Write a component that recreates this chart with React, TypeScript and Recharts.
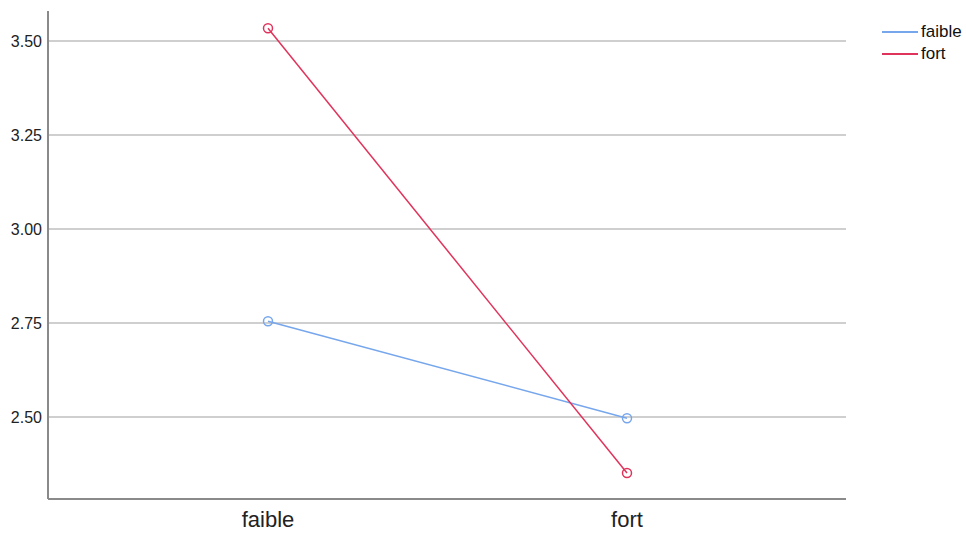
import React from 'react';
import { LineChart, Line, XAxis, YAxis, CartesianGrid } from 'recharts';

const categories = ['faible', 'fort'];
const faibleValues = [2.755, 2.497];
const fortValues = [3.534, 2.351];
const yTicks = [2.5, 2.75, 3.0, 3.25, 3.5];

const seriesInfo = [
  { key: 'faible', color: '#76a6ec' },
  { key: 'fort', color: '#e0335b' },
];

const data = categories.map((c, i) => ({ name: c, faible: faibleValues[i], fort: fortValues[i] }));

const FONT = '"Liberation Sans", Arial, sans-serif';

const LegendBox = () => (
  <div style={{ position: 'absolute', left: 882, top: 21, fontFamily: FONT }}>
    {seriesInfo.map((s) => (
      <div key={s.key} style={{ display: 'flex', alignItems: 'center', height: 22 }}>
        <div style={{ width: 36, height: 2, background: s.color, marginRight: 3 }} />
        <span style={{ fontSize: 17, color: '#111' }}>{s.key}</span>
      </div>
    ))}
  </div>
);

export default function App() {
  return (
    <div style={{ position: 'absolute', left: 0, top: 0, width: 966, height: 535, background: '#fff' }}>
      <LineChart
        width={966}
        height={535}
        data={data}
        margin={{ top: 11, right: 120, bottom: 0, left: 0 }}
        style={{ fontFamily: FONT }}
      >
        <CartesianGrid
          horizontal
          vertical={false}
          horizontalValues={yTicks}
          stroke="#cfcfcf"
          strokeWidth={2}
        />
        <XAxis
          dataKey="name"
          scale="point"
          height={36}
          padding={{ left: 220, right: 219 }}
          axisLine={{ stroke: '#8a8a8a', strokeWidth: 2 }}
          tickLine={false}
          tickMargin={6}
          tick={{ fontSize: 22, fill: '#222', fontFamily: FONT }}
        />
        <YAxis
          width={48}
          domain={[2.282, 3.58]}
          ticks={yTicks}
          tickFormatter={(v: number) => v.toFixed(2)}
          axisLine={{ stroke: '#8a8a8a', strokeWidth: 2 }}
          tickLine={false}
          tickMargin={0}
          tick={{ fontSize: 16, fill: '#222', fontFamily: FONT }}
          allowDataOverflow
        />
        {seriesInfo.map((s) => (
          <Line
            key={s.key}
            dataKey={s.key}
            type="linear"
            stroke={s.color}
            strokeWidth={1.5}
            dot={{ r: 4.5, stroke: s.color, strokeWidth: 1.5, fill: 'none' }}
            activeDot={false}
            isAnimationActive={false}
          />
        ))}
      </LineChart>
      <LegendBox />
    </div>
  );
}
